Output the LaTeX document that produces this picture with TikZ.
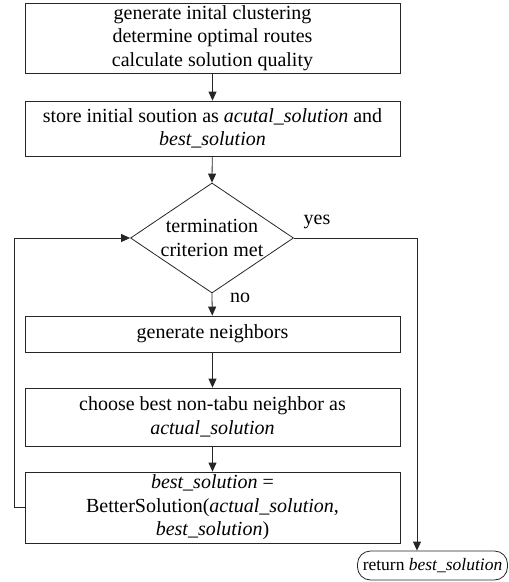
\documentclass[tikz,border=0pt]{standalone}
\usepackage{fontspec}
\setmainfont{Liberation Serif}
\usetikzlibrary{shapes.geometric,shapes.misc,arrows.meta}
\begin{document}
\begin{tikzpicture}[x=1pt,y=-1pt,
  every node/.style={font=\fontsize{20}{23.5}\selectfont},
  box/.style={draw=black!85,line width=0.8pt,rectangle,minimum width=375pt,inner sep=0pt,align=center},
  arr/.style={draw=black!85,line width=0.8pt,-{Triangle[length=9pt,width=8pt]}},
  ln/.style={draw=black!85,line width=0.8pt}]
\useasboundingbox (0,0) rectangle (509,582);
\node[box,minimum height=70pt] (b1) at (212.5,38) {generate inital clustering\\determine optimal routes\\calculate solution quality};
\node[box,minimum height=55pt] (b2) at (212.5,128.5) {store initial soution as \textit{acutal\_solution} and\\\textit{best\_solution}};
\node[draw=black!85,line width=0.8pt,diamond,minimum width=163pt,minimum height=110pt,inner sep=0pt] (d) at (212,238) {};
\node[align=center,inner sep=0pt] (dt) at (d.center) {termination\\criterion met};
\node[box,minimum height=36pt] (b3) at (212.5,334) {generate neighbors};
\node[box,minimum height=58pt] (b4) at (212.5,417) {choose best non-tabu neighbor as\\\textit{actual\_solution}};
\node[box,minimum height=71pt] (b5) at (212.5,507.5) {\textit{best\_solution} =\\BetterSolution(\textit{actual\_solution},\\\textit{best\_solution})};
\node[draw=black!85,line width=0.8pt,rectangle,rounded corners=13pt,minimum width=150pt,minimum height=29pt,inner sep=0pt,font=\fontsize{17.5}{20}\selectfont] (t) at (432.5,565.5) {return \textit{best\_solution}};
\node[inner sep=0pt] (yes) at (317,222) {yes};
\node[inner sep=0pt] (no) at (240,298) {no};
\draw[arr] (b1) -- (b2);
\draw[arr] (b2) -- (d.north);
\draw[arr] (d.south) -- (b3);
\draw[arr] (b3) -- (b4);
\draw[arr] (b4) -- (b5);
\draw[arr] (b5.west) -| (14,238) -- (d.west);
\draw[arr] (d.east) -| (t.north -| 417,0);
\end{tikzpicture}
\end{document}
